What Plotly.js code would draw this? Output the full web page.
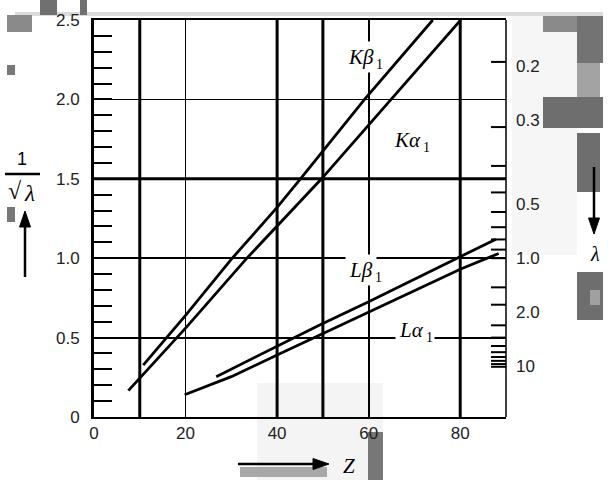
<!DOCTYPE html>
<html>
<head>
<meta charset="utf-8">
<script src="https://cdn.plot.ly/plotly-3.0.1.min.js"></script>
<style>html,body{margin:0;padding:0;background:#fff;}#chart{width:608px;height:480px;}</style>
</head>
<body>
<div id="chart"></div>
<script>
// ---- data ----
const zKa = [7.5, 20, 33.4, 40, 49.7, 64.9, 80.1];
const yKa = [0.166, 0.56, 1.0, 1.2, 1.5, 2.0, 2.5];
const zKb = [10.75, 20, 30.2, 40, 45.1, 59.1, 74.0];
const yKb = [0.327, 0.64, 1.0, 1.32, 1.5, 2.0, 2.5];
const zLa = [19.8, 30, 40, 49.3, 60, 80, 88.4];
const yLa = [0.14, 0.254, 0.39, 0.516, 0.663, 0.93, 1.03];
const zLb = [26.7, 40, 49.3, 60, 80, 87.8];
const yLb = [0.254, 0.443, 0.58, 0.726, 1.006, 1.12];

const xTickVals = [0, 20, 40, 60, 80];
const xTickText = ['0', '20', '40', '60', '80'];
const yTickVals = [0, 0.5, 1.0, 1.5, 2.0, 2.5];
const yTickText = ['0', '0.5', '1.0', '1.5', '2.0', '2.5'];
// wavelength ticks on the right axis (lambda values)
const lamTicks = [0.2, 0.3, 0.4, 0.5, 0.6, 0.7, 0.8, 0.9, 1.0, 1.5, 2, 3, 4, 5, 6, 7, 8, 9, 10];
const lamLabels = ['0.2', '0.3', '0.5', '1.0', '2.0', '10'];
const lamLabelPos = [2.21, 1.87, 1.34, 1.0, 0.655, 0.315];

const lineNames = ['Kα', 'Kβ', 'Lα', 'Lβ'];
const lineSub = '1';

// ---- styling / layout helpers ----
const L = 94, R = 506, T = 20, B = 417;
const W = R - L, H = B - T;
const px = p => (p - L) / W;
const py = p => (B - p) / H;
const thickX = [10, 40, 50, 80];
const thickY = [1.5];

const lineStyle = {color: '#000', width: 2.8};
const traces = [
  {x: zKa, y: yKa, name: lineNames[0] + lineSub},
  {x: zKb, y: yKb, name: lineNames[1] + lineSub},
  {x: zLa, y: yLa, name: lineNames[2] + lineSub},
  {x: zLb, y: yLb, name: lineNames[3] + lineSub}
].map(t => Object.assign(t, {type: 'scatter', mode: 'lines', line: lineStyle, hoverinfo: 'skip', showlegend: false}));

const numFont = {family: 'Liberation Sans, Arial, sans-serif', size: 17, color: '#222'};
const serif = 'Liberation Serif, Times New Roman, serif';

const shapes = [];
// artifact blocks in the reference image
const blocks = [
  [512, 15, 577, 255, '#f6f6f6'],
  [543, 15, 577, 32, '#8a8a8a'],
  [577, 15, 603, 63, '#737373'],
  [577, 63, 600, 110, '#a3a3a3'],
  [543, 97, 603, 128, '#6e6e6e'],
  [577, 133, 600, 192, '#6e6e6e'],
  [577, 272, 603, 320, '#6e6e6e'],
  [590, 290, 600, 305, '#a0a0a0'],
  [15, 12, 603, 16, '#dadada'],
  [40, 0, 57, 15, '#707070'],
  [80, 0, 87, 15, '#707070'],
  [7, 15, 32, 32, '#8a8a8a'],
  [7, 65, 15, 75, '#777777'],
  [7, 207, 15, 222, '#777777'],
  [257, 383, 383, 480, '#f4f4f4'],
  [368, 432, 383, 480, '#777777'],
  [240, 467, 327, 477, '#a8a8a8']
];
blocks.forEach(b => shapes.push({type: 'rect', xref: 'paper', yref: 'paper', x0: px(b[0]), x1: px(b[2]), y0: py(b[3]), y1: py(b[1]), fillcolor: b[4], line: {width: 0}, layer: 'below'}));
thickX.forEach(v => shapes.push({type: 'line', xref: 'x', yref: 'paper', x0: v, x1: v, y0: 0, y1: 1, line: {color: '#000', width: 3}, layer: 'below'}));
thickY.forEach(v => shapes.push({type: 'line', xref: 'paper', yref: 'y', x0: 0, x1: 1, y0: v, y1: v, line: {color: '#000', width: 3}, layer: 'below'}));
// right border and wavelength ticks (positions from the lambda scale)
shapes.push({type: 'line', xref: 'paper', yref: 'paper', x0: 1, x1: 1, y0: 0, y1: 1, line: {color: '#000', width: 1.5}});
lamTicks.forEach(l => {
  const v = 1 / Math.sqrt(l);
  shapes.push({type: 'line', xref: 'paper', yref: 'y', x0: 1 - 15 / W, x1: 1, y0: v, y1: v, line: {color: '#000', width: 2}});
});
// fraction bar of 1/sqrt(lambda)
shapes.push({type: 'line', xref: 'paper', yref: 'paper', x0: px(5), x1: px(40), y0: py(174), y1: py(174), line: {color: '#000', width: 2.5}});

// arrows drawn as shaft + filled head
function arrowShape(x0, y0, x1, y1) {
  const dx = x1 - x0, dy = y1 - y0, len = Math.hypot(dx, dy);
  const ux = dx / len, uy = dy / len, hl = 16, hw = 5.5;
  const bx = x1 - ux * hl, by = y1 - uy * hl;
  shapes.push({type: 'line', xref: 'paper', yref: 'paper', x0: px(x0), y0: py(y0), x1: px(bx), y1: py(by), line: {color: '#000', width: 2.5}});
  const p1 = [bx - uy * hw, by + ux * hw], p2 = [bx + uy * hw, by - ux * hw];
  shapes.push({type: 'path', xref: 'paper', yref: 'paper',
    path: `M ${px(x1)},${py(y1)} L ${px(p1[0])},${py(p1[1])} L ${px(p2[0])},${py(p2[1])} Z`,
    fillcolor: '#000', line: {color: '#000', width: 1}});
}
arrowShape(25, 277, 25, 211);
arrowShape(594, 167, 594, 234);
arrowShape(238, 464, 329, 464);

const italic = {family: serif, size: 21, color: '#000', style: 'italic'};
const subFont = {family: serif, size: 14, color: '#000'};
const plain = (txt, x, y, font, anchor, pad) => {
  const a = {text: txt, xref: 'paper', yref: 'paper', x: px(x), y: py(y), xanchor: anchor || 'center', yanchor: 'middle', showarrow: false, font: font};
  if (pad !== undefined) { a.bgcolor = '#fff'; a.borderpad = pad; }
  return a;
};

// curve labels: main glyphs + subscript, at their places in the picture
const labelPlaces = [[425, 140], [378, 57], [428, 330], [377, 270]];
const annotations = [];
lineNames.forEach((n, i) => {
  const [x, y] = labelPlaces[i];
  annotations.push(plain(n, x, y, italic, 'right', 3));
  annotations.push(plain(lineSub, x - 4, y + 7, subFont, 'left', 1));
});
annotations.push(
  plain('1', 22, 159, {family: 'Liberation Sans, Arial, sans-serif', size: 18, color: '#000'}),
  plain('√', 15, 191, {family: serif, size: 24, color: '#000'}),
  plain('λ', 29, 193, {family: serif, size: 23, color: '#000', style: 'italic'}),
  plain('λ', 588, 254, {family: serif, size: 20, color: '#000', style: 'italic'}, 'left'),
  plain('Z', 349, 466, {family: serif, size: 21, color: '#000', style: 'italic'})
);
// right-hand wavelength labels
lamLabels.forEach((t, i) => annotations.push({text: t, xref: 'paper', yref: 'y', x: px(514), y: lamLabelPos[i], xanchor: 'left', yanchor: 'middle', showarrow: false, font: numFont}));

const layout = {
  width: 608, height: 480,
  margin: {l: L, r: 608 - R, t: T, b: 480 - B, pad: 0},
  paper_bgcolor: '#fff', plot_bgcolor: 'rgba(0,0,0,0)',
  showlegend: false,
  xaxis: {
    range: [0, 90], showgrid: true, gridcolor: '#000', gridwidth: 1.8, dtick: 10, tick0: 0,
    tickmode: 'array', tickvals: xTickVals, ticktext: xTickText,
    ticks: '', showline: true, linecolor: '#000', linewidth: 2, mirror: true, zeroline: false,
    tickfont: numFont, fixedrange: true
  },
  yaxis: {
    range: [0, 2.5], showgrid: true, gridcolor: '#000', gridwidth: 1.8,
    tickmode: 'array', tickvals: yTickVals, ticktext: yTickText,
    ticks: 'inside', ticklen: 18, tickwidth: 2, tickcolor: '#000',
    minor: {dtick: 0.1, tick0: 0, ticks: 'inside', ticklen: 18, tickwidth: 2, tickcolor: '#000', showgrid: false},
    showline: true, linecolor: '#000', linewidth: 3, zeroline: false,
    tickfont: numFont, ticklabelstandoff: 8, fixedrange: true
  },
  shapes: shapes,
  annotations: annotations
};

Plotly.newPlot('chart', traces, layout, {staticPlot: true, displayModeBar: false});
</script>
</body>
</html>
